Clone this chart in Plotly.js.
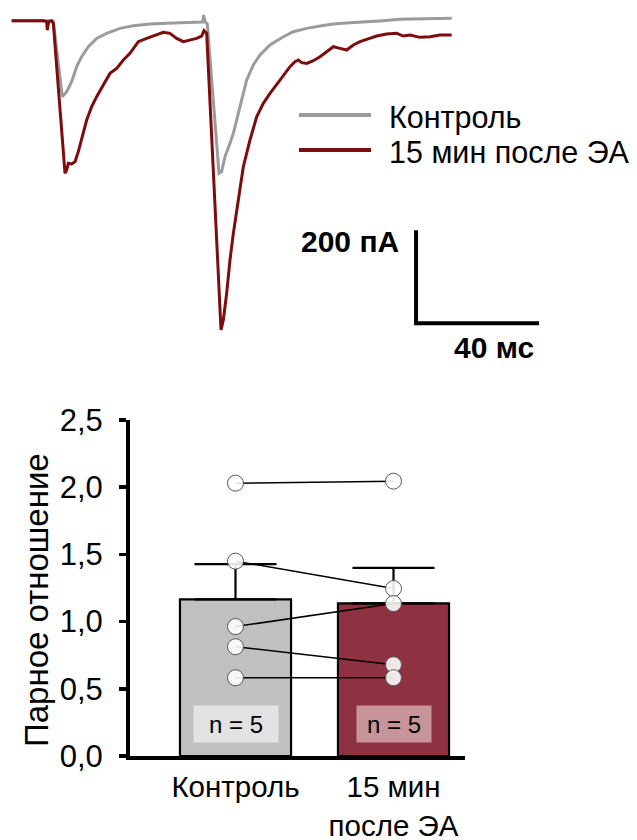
<!DOCTYPE html>
<html>
<head>
<meta charset="utf-8">
<script src="https://cdn.plot.ly/plotly-3.0.1.min.js"></script>
<style>
  html, body { margin: 0; padding: 0; background: #ffffff; }
  #chart { width: 637px; height: 840px; }
</style>
</head>
<body>
<div id="chart"></div>
<script>
// ---------- Data: current traces (time in ms, current in pA) ----------
const controlTraceT = [-0.1, 12.36, 13.44, 16.37, 17.78, 19.40, 21.03, 22.66, 24.82, 27.53, 30.79, 35.12, 39.46, 44.88, 50.30, 55.72, 61.14, 62.01, 62.33, 62.87, 63.52, 67.32, 68.18, 69.27, 70.89, 71.98, 74.15, 76.31, 78.48, 80.65, 83.90, 88.24, 91.49, 95.83, 100.16, 104.50, 109.92, 115.34, 120.76, 126.18, 131.60, 137.02, 142.98];
const controlTraceI = [0.5, 0.5, -1.6, -162.9, -152.2, -130.7, -98.4, -76.9, -55.4, -37.5, -26.7, -16.0, -10.3, -6.7, -5.2, -3.8, -3.8, -2.4, 12.7, -2.4, -6.7, -327.8, -324.2, -292.0, -263.3, -241.8, -184.4, -127.1, -94.8, -73.3, -51.8, -33.9, -23.2, -16.0, -11.0, -6.7, -3.8, -2.4, 0.5, 3.4, 4.1, 5.5, 5.5];

const eaTraceT = [-0.1, 10.19, 11.27, 11.49, 11.92, 12.90, 13.44, 17.24, 17.78, 18.32, 19.40, 20.49, 21.57, 22.66, 24.28, 25.91, 27.53, 29.70, 31.87, 34.04, 36.21, 38.37, 41.08, 43.79, 46.50, 49.21, 51.38, 53.55, 55.72, 57.89, 60.05, 61.68, 62.44, 63.31, 67.97, 68.73, 69.81, 70.89, 71.98, 73.60, 75.23, 77.40, 79.57, 81.73, 83.90, 87.15, 90.41, 92.03, 93.12, 94.20, 95.83, 98.00, 100.16, 102.33, 104.50, 106.67, 108.83, 111.00, 113.17, 115.34, 118.59, 121.84, 125.09, 127.26, 129.43, 132.68, 135.93, 139.19, 142.98];
const eaTraceI = [0.5, 0.5, -1.6, -19.6, -1.6, 0.5, -5.2, -327.8, -320.6, -306.3, -307.7, -302.7, -281.2, -256.1, -213.1, -184.4, -162.9, -137.8, -112.8, -102.0, -84.1, -69.7, -44.7, -37.5, -30.3, -24.6, -26.7, -37.5, -44.7, -41.1, -37.5, -32.5, -21.0, -26.7, -664.7, -643.2, -585.9, -514.2, -456.8, -385.2, -313.5, -256.1, -206.0, -177.3, -155.8, -127.1, -98.4, -87.7, -84.1, -89.8, -91.3, -85.5, -76.9, -66.2, -55.4, -59.0, -62.6, -51.8, -44.7, -39.6, -32.5, -28.2, -26.7, -32.5, -30.3, -35.3, -33.9, -30.3, -30.3];

const traceNames = ["Контроль", "15 мин после ЭА"];

// Scale bar values
const scaleBarTimeMs = 40;
const scaleBarCurrentPA = 200;
const scaleBarOriginT = 131.4;
const scaleBarOriginI = -650;

// ---------- Data: paired-pulse ratio ----------
const categories = ["Контроль", "15 мин<br>после ЭА"];
const meanValues = [1.165, 1.135];
const semValues = [0.263, 0.264];
const pprControl = [2.03, 1.45, 0.963, 0.813, 0.582];
const pprEA = [2.045, 1.246, 1.134, 0.679, 0.582];
const nLabels = ["n = 5", "n = 5"];
const yTickVals = [0, 0.5, 1.0, 1.5, 2.0, 2.5];

// ---------- Styling ----------
const FONT = "Liberation Sans, Arial, sans-serif";
const GRAY_TRACE = "#9b9b9b";
const RED_TRACE = "#7d0c0c";
const BAR_COLORS = ["#c0c0c0", "#8e3141"];
const NBOX_COLORS = ["#e2e2e2", "#c7949c"];

// Paired lines (one trace, pairs separated by null)
const pairX = [], pairY = [];
for (let i = 0; i < pprControl.length; i++) {
  pairX.push(categories[0], categories[1], null);
  pairY.push(pprControl[i], pprEA[i], null);
}

const traces = [
  {
    type: "bar", x: categories, y: meanValues, width: 0.703,
    xaxis: "x", yaxis: "y",
    marker: { color: BAR_COLORS, line: { color: "#000", width: 2.2 } },
    error_y: { type: "data", symmetric: false, array: semValues, arrayminus: [0, 0],
               color: "#000", thickness: 2.2, width: 41 },
    showlegend: false, hoverinfo: "skip"
  },
  {
    type: "scatter", mode: "lines+markers", x: pairX, y: pairY,
    xaxis: "x", yaxis: "y", connectgaps: false,
    line: { color: "#000", width: 1.5 },
    marker: { size: 16, color: "rgba(255,255,255,0.88)", line: { color: "#555", width: 1 } },
    showlegend: false, hoverinfo: "skip"
  },
  {
    type: "scatter", mode: "lines", x: controlTraceT, y: controlTraceI,
    xaxis: "x2", yaxis: "y2", name: traceNames[0],
    line: { color: GRAY_TRACE, width: 3 }, showlegend: false, hoverinfo: "skip"
  },
  {
    type: "scatter", mode: "lines", x: eaTraceT, y: eaTraceI,
    xaxis: "x2", yaxis: "y2", name: traceNames[1],
    line: { color: RED_TRACE, width: 3 }, showlegend: false, hoverinfo: "skip"
  }
];

const W = 637, H = 840;
const px = v => v / W;
const py = v => 1 - v / H;

const scalePath = "M" + scaleBarOriginT + "," + (scaleBarOriginI + scaleBarCurrentPA) +
  " L" + scaleBarOriginT + "," + scaleBarOriginI +
  " L" + (scaleBarOriginT + scaleBarTimeMs) + "," + scaleBarOriginI;

const layout = {
  width: W, height: H,
  margin: { l: 0, r: 0, t: 0, b: 0 },
  paper_bgcolor: "#fff", plot_bgcolor: "rgba(0,0,0,0)",
  separators: ", ",
  font: { family: FONT, color: "#000", size: 30 },
  showlegend: false,
  xaxis: {
    domain: [px(130), px(465)], anchor: "y",
    type: "category", range: [-0.6677, 1.4525],
    showline: true, linecolor: "#000", linewidth: 4,
    ticks: "", showgrid: false, zeroline: false,
    tickfont: { family: FONT, size: 29.5, color: "#000" },
    ticklabelstandoff: 2, fixedrange: true
  },
  yaxis: {
    domain: [1 - 756 / H, 1 - 420 / H], anchor: "x",
    range: [0, 2.5], tickvals: yTickVals, tickformat: ".1f",
    showline: true, linecolor: "#000", linewidth: 4,
    ticks: "outside", ticklen: 7, tickwidth: 3.5, tickcolor: "#000",
    showgrid: false, zeroline: false,
    tickfont: { family: FONT, size: 31, color: "#000" },
    ticklabelstandoff: 10, fixedrange: true
  },
  xaxis2: { domain: [0, 1], anchor: "y2", range: [-3.9, 203.25], visible: false, fixedrange: true },
  yaxis2: { domain: [0.5433, 1], anchor: "x2", range: [-780, 45], visible: false, fixedrange: true },
  shapes: [
    { type: "line", xref: "paper", yref: "paper", x0: px(299), x1: px(371), y0: py(115), y1: py(115),
      line: { color: GRAY_TRACE, width: 4 } },
    { type: "line", xref: "paper", yref: "paper", x0: px(299), x1: px(371), y0: py(150), y1: py(150),
      line: { color: RED_TRACE, width: 4 } },
    { type: "path", xref: "x2", yref: "y2", path: scalePath, line: { color: "#000", width: 4 } }
  ],
  annotations: [
    { xref: "paper", yref: "paper", x: px(387), y: py(118), xanchor: "left", yanchor: "middle",
      text: traceNames[0], showarrow: false, font: { family: FONT, size: 30.5 } },
    { xref: "paper", yref: "paper", x: px(387), y: py(152), xanchor: "left", yanchor: "middle",
      text: traceNames[1], showarrow: false, font: { family: FONT, size: 30.5 } },
    { xref: "paper", yref: "paper", x: px(401), y: py(242), xanchor: "right", yanchor: "middle",
      text: "<b>" + scaleBarCurrentPA + " пА</b>", showarrow: false, font: { family: FONT, size: 30 } },
    { xref: "paper", yref: "paper", x: px(494), y: py(347), xanchor: "center", yanchor: "middle",
      text: "<b>" + scaleBarTimeMs + " мс</b>", showarrow: false, font: { family: FONT, size: 30 } },
    { xref: "paper", yref: "paper", x: px(36), y: py(600), xanchor: "center", yanchor: "middle",
      textangle: -90, text: "Парное отношение", showarrow: false, font: { family: FONT, size: 33 } },
    { xref: "x", yref: "y", x: categories[0], y: 0.24, xanchor: "center", yanchor: "middle",
      text: nLabels[0], showarrow: false, width: 82, height: 34, bgcolor: NBOX_COLORS[0],
      font: { family: FONT, size: 24 } },
    { xref: "x", yref: "y", x: categories[1], y: 0.24, xanchor: "center", yanchor: "middle",
      text: nLabels[1], showarrow: false, width: 72, height: 34, bgcolor: NBOX_COLORS[1],
      font: { family: FONT, size: 24 } }
  ]
};

Plotly.newPlot("chart", traces, layout, { staticPlot: true, displayModeBar: false });
</script>
</body>
</html>
